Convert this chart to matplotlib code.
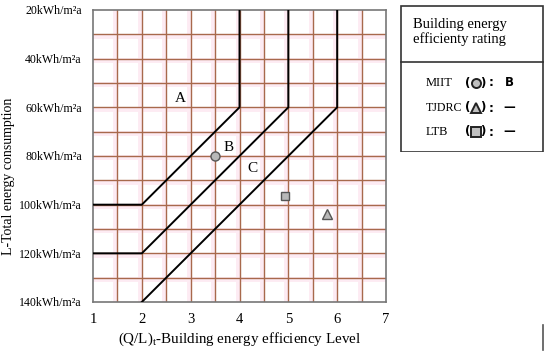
import matplotlib
matplotlib.use("Agg")
import matplotlib.pyplot as plt
from matplotlib.patches import Rectangle
from matplotlib.lines import Line2D

# ---- data ----
y_ticks = [20, 40, 60, 80, 100, 120, 140]
y_tick_labels = [f"{v}kWh/m²a" for v in y_ticks]
x_ticks = [1, 2, 3, 4, 5, 6, 7]

# boundary lines (x, y)
bound_ab_x = [1, 2, 4, 4]
bound_ab_y = [100, 100, 60, 20]
bound_bc_x = [1, 2, 5, 5]
bound_bc_y = [120, 120, 60, 20]
bound_c_x = [2, 6, 6]
bound_c_y = [140, 60, 20]

zone_labels = ["A", "B", "C"]
zone_x = [2.78, 3.77, 4.26]
zone_y = [56.5, 76.5, 85]

miit_pt = (3.5, 80)
ltb_pt = (4.93, 96.5)
tjdrc_pt = (5.8, 104)

legend_names = ["MIIT", "TJDRC", "LTB"]
legend_markers = ["o", "^", "s"]
legend_values = ["B", "—", "—"]

serif = "Liberation Serif"

fig = plt.figure(figsize=(5.5, 3.55), dpi=100)
ax = fig.add_axes([93/550, 1-302/355, (386-93)/550, (302-10)/355])
ax.set_xlim(1, 7)
ax.set_ylim(140, 20)

grid_col = "#a8694c"
halo = "#fdebf3"
xs_grid = [1 + 0.5*i for i in range(1, 12)]
ys_grid = list(range(30, 140, 10))
for xv in xs_grid:
    ax.axvline(xv - 0.04, color=halo, lw=3.5, zorder=0)
for yv in ys_grid:
    ax.axhline(yv + 0.6, color=halo, lw=3.5, zorder=0)
for xv in xs_grid:
    ax.axvline(xv, color=grid_col, lw=1, zorder=1)
for yv in ys_grid:
    ax.axhline(yv, color=grid_col, lw=1, zorder=1)

for s in ax.spines.values():
    s.set_color("#777777")
    s.set_linewidth(1.2)

for bx, by in [(bound_ab_x, bound_ab_y), (bound_bc_x, bound_bc_y), (bound_c_x, bound_c_y)]:
    ax.plot(bx, by, color="black", lw=1.4, zorder=3, solid_joinstyle="miter")

for t, x, y in zip(zone_labels, zone_x, zone_y):
    ax.text(x, y, t, fontsize=11, family=serif, ha="center", va="center", zorder=4)

ax.plot(*miit_pt, marker="o", ms=6.5, mfc="#b8b8b8", mec="#555555", mew=1, zorder=5)
ax.plot(*ltb_pt, marker="s", ms=6, mfc="#b8b8b8", mec="#555555", mew=1, zorder=5)
ax.plot(*tjdrc_pt, marker="^", ms=7.5, mfc="#b8b8b8", mec="#555555", mew=1, zorder=5)

ax.set_yticks(y_ticks)
ax.set_yticklabels(y_tick_labels, family=serif, fontsize=8.6)
ax.set_xticks(x_ticks)
ax.set_xticklabels([str(v) for v in x_ticks], family=serif, fontsize=10.5)
ax.tick_params(axis="y", length=0, pad=8)
ax.tick_params(axis="x", length=0, pad=8)

ax.set_xlabel("(Q/L)$_{\\mathregular{t}}$-Building energy efficiency Level", family=serif,
              fontsize=10.8, labelpad=3)
ax.set_ylabel("L-Total energy consumption", family=serif, fontsize=10, va="center")
ax.yaxis.set_label_coords(-0.29, 0.43)

# ---- legend box ----
lax = fig.add_axes([400/550, 1-152/355, (545-400)/550, (152-5)/355])
lax.set_xlim(0, 145)
lax.set_ylim(147, 0)
lax.axis("off")
lax.add_patch(Rectangle((0.5, 0.5), 142.5, 146, fill=False, ec="#333333", lw=1.2))
lax.plot([0.5, 143], [57, 57], color="#333333", lw=1.2)
lax.text(13, 19.5, "Building energy", family=serif, fontsize=10.5, va="center")
lax.text(13, 34, "efficienty rating", family=serif, fontsize=10.5, va="center")

rows_y = [78, 103, 127]
name_sizes = [9, 8.6, 9]
for name, mk, val, ry, fs in zip(legend_names, legend_markers, legend_values, rows_y, name_sizes):
    lax.text(26, ry, name, family=serif, fontsize=fs, va="center")
    lax.text(68, ry, "(", fontsize=8.5, fontweight="bold", va="center", ha="center")
    lax.text(83, ry, ")", fontsize=8.5, fontweight="bold", va="center", ha="center")
    lax.plot(75.5, ry, marker=mk, ms=7.5 if mk == "^" else 6.5, mfc="#c0c0c0", mec="#222222", mew=1.4)
    lax.text(91, ry, ":", fontsize=8.5, fontweight="bold", va="center", ha="center")
    lax.text(109, ry, val, fontsize=8.5, fontweight="bold", va="center", ha="center")

fig.add_artist(Line2D([543/550, 543/550], [1-350/355, 1-325/355], color="#555555", lw=1.2))

fig.savefig("out.png", dpi=100)
